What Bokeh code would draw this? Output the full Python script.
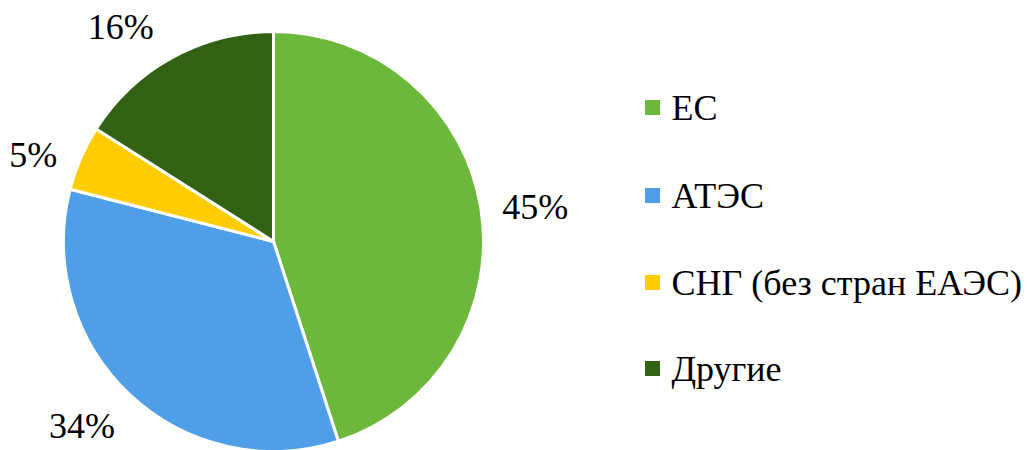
import math
from bokeh.plotting import figure
from bokeh.models import Range1d
from bokeh.core.properties import value
from bokeh.embed import file_html
from bokeh.resources import INLINE

categories = ["ЕС", "АТЭС", "СНГ (без стран ЕАЭС)", "Другие"]
shares = [45, 34, 5, 16]
pct_labels = ["45%", "34%", "5%", "16%"]
colors = ["#6CB83A", "#4F9FE8", "#FFCC00", "#336114"]

W, H = 1034, 450
p = figure(width=W, height=H, output_backend="svg", toolbar_location=None,
           x_range=Range1d(0, W), y_range=Range1d(0, H), min_border=0)
p.axis.visible = False
p.grid.visible = False
p.outline_line_color = None

cx, cy, R = 273, H - 241, 210
total = sum(shares)
starts, ends, mids = [], [], []
a = math.pi / 2
for s in shares:
    sweep = 2 * math.pi * s / total
    starts.append(a)
    ends.append(a - sweep)
    mids.append(a - sweep / 2)
    a -= sweep

p.wedge(x=[cx] * 4, y=[cy] * 4, radius=R, start_angle=starts, end_angle=ends,
        direction="clock", fill_color=colors, line_color="white", line_width=3)

# data labels (outside end)
lab_r = 265
nudge = [(0, -7), (-10, 9), (3, -19), (-25, -18)]
lx = [cx + lab_r * math.cos(m) + n[0] for m, n in zip(mids, nudge)]
ly = [cy + lab_r * math.sin(m) + n[1] for m, n in zip(mids, nudge)]
font = value("Liberation Serif")
p.text(x=lx, y=ly, text=pct_labels, text_font=font, text_font_size="36px",
       text_align="center", text_baseline="middle", text_color="#000000")

# legend
leg_x = 652
ys = [H - 107, H - 195, H - 282, H - 368]
p.scatter(x=[leg_x] * 4, y=ys, marker="square", size=15, fill_color=colors, line_color=None)
p.text(x=[leg_x + 19] * 4, y=ys, text=categories, text_font=font, text_font_size="36px",
       text_align="left", text_baseline="middle", text_color="#000000")

open("out.html", "w").write(file_html(p, INLINE))
